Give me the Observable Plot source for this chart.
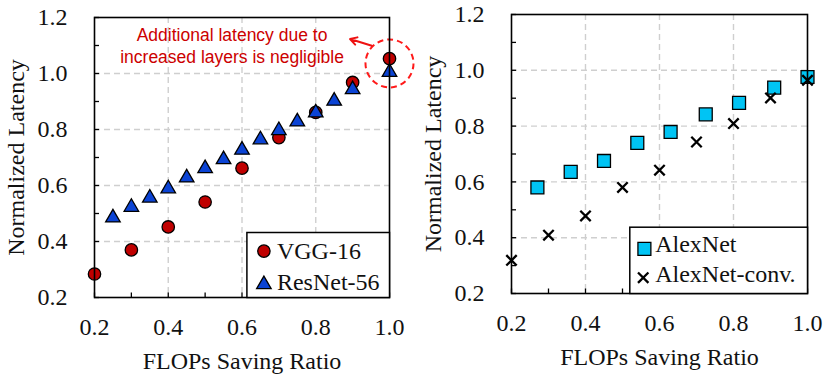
<!DOCTYPE html>
<html>
<head>
<meta charset="utf-8">
<script src="https://cdn.jsdelivr.net/npm/d3@7"></script>
<script src="https://cdn.jsdelivr.net/npm/@observablehq/plot@0.6"></script>
<style>
  html, body { margin: 0; padding: 0; background: #fff; }
  #wrap { position: relative; width: 823px; height: 377px; overflow: hidden; }
  #left { position: absolute; left: 0; top: 0; }
  #right { position: absolute; left: 420px; top: 0; }
</style>
</head>
<body>
<div id="wrap"><div id="left"></div><div id="right"></div></div>
<script>
// ---- data (left panel) ----
const vggX = [0.2, 0.3, 0.4, 0.5, 0.6, 0.7, 0.8, 0.9, 1.0];
const vggY = [0.284, 0.370, 0.452, 0.541, 0.662, 0.771, 0.861, 0.968, 1.053];
const resX = [0.25, 0.3, 0.35, 0.4, 0.45, 0.5, 0.55, 0.6, 0.65, 0.7, 0.75, 0.8, 0.85, 0.9, 1.0];
const resY = [0.492, 0.530, 0.563, 0.596, 0.635, 0.668, 0.700, 0.734, 0.771, 0.804, 0.835, 0.867, 0.909, 0.950, 1.012];
// ---- data (right panel) ----
const alexX = [0.27, 0.36, 0.45, 0.54, 0.63, 0.725, 0.815, 0.91, 1.0];
const alexY = [0.580, 0.636, 0.675, 0.740, 0.779, 0.842, 0.883, 0.938, 0.976];
const convX = [0.2, 0.3, 0.4, 0.5, 0.6, 0.7, 0.8, 0.9, 1.0];
const convY = [0.319, 0.409, 0.478, 0.580, 0.642, 0.743, 0.809, 0.901, 0.964];
// ---- axes / labels ----
const xMajor = [0.2, 0.4, 0.6, 0.8, 1.0];
const xMinor = [0.2, 0.3, 0.4, 0.5, 0.6, 0.7, 0.8, 0.9, 1.0];
const yMajor = [0.2, 0.4, 0.6, 0.8, 1.0, 1.2];
const yMinor = [0.2, 0.3, 0.4, 0.5, 0.6, 0.7, 0.8, 0.9, 1.0, 1.1, 1.2];
const xGrid = [0.4, 0.6, 0.8];
const yGrid = [0.4, 0.6, 0.8, 1.0];
const xTitle = "FLOPs Saving Ratio";
const yTitle = "Normalized Latency";
const leftLegend = ["VGG-16", "ResNet-56"];
const rightLegend = ["AlexNet", "AlexNet-conv."];
const note = {text: "Additional latency due to\nincreased layers is negligible", x: 0.573, y: 1.102};
const highlight = {x: 1.0, y: 1.036};
const pointer = {x1: 0.952, y1: 1.099, x2: 0.893, y2: 1.123};

const zip = (xs, ys) => xs.map((x, i) => ({x, y: ys[i]}));
const SERIF = "Liberation Serif, Times New Roman, serif";
const SANS = "Liberation Sans, Arial, sans-serif";
const RED = "#c00000", BLUE = "#0b43d4", CYAN = "#00c4f4";
const fmt = d3.format(".1f");

function commonMarks() {
  return [
    Plot.gridX(xGrid, {stroke: "#cfcfcf", strokeOpacity: 1, strokeWidth: 1.4, strokeDasharray: "6,4"}),
    Plot.gridY(yGrid, {stroke: "#cfcfcf", strokeOpacity: 1, strokeWidth: 1.4, strokeDasharray: "6,4"}),
    Plot.axisY(yMinor, {tickSize: -5, tickFormat: () => "", label: null, strokeWidth: 1.3}),
    Plot.axisX(xMinor, {tickSize: -4.5, tickFormat: () => "", label: null, strokeWidth: 1.3}),
    Plot.text(yMajor, {y: d => d, text: fmt, frameAnchor: "left", dx: -27, textAnchor: "end", lineAnchor: "middle", fontSize: 24, fontFamily: SERIF, fill: "#111"}),
    Plot.text(xMajor, {x: d => d, text: fmt, frameAnchor: "bottom", dy: 30, textAnchor: "middle", lineAnchor: "middle", fontSize: 24, fontFamily: SERIF, fill: "#111"}),
    Plot.text([yTitle], {text: d => d, frameAnchor: "left", dx: -78, rotate: -90, textAnchor: "middle", lineAnchor: "middle", fontSize: 24, fontFamily: SERIF, fill: "#111"}),
    Plot.text([xTitle], {text: d => d, frameAnchor: "bottom", dy: 64, textAnchor: "middle", lineAnchor: "middle", fontSize: 24, fontFamily: SERIF, fill: "#111"})
  ];
}

const left = Plot.plot({
  width: 420, height: 377,
  marginLeft: 94, marginRight: 31, marginTop: 17, marginBottom: 80,
  x: {domain: [0.2, 1.0]},
  y: {domain: [0.2, 1.2]},
  style: {fontFamily: SERIF, fontSize: "24px", background: "white", overflow: "visible"},
  marks: [
    ...commonMarks(),
    Plot.dot(zip(vggX, vggY), {x: "x", y: "y", r: 6.2, fill: RED, stroke: "black", strokeWidth: 1.3}),
    Plot.dot(zip(resX, resY), {x: "x", y: "y", r: 5.4, symbol: "triangle", dy: 2, fill: BLUE, stroke: "black", strokeWidth: 1.3}),
    Plot.dot([highlight], {x: "x", y: "y", r: 24, fill: "none", stroke: "#ff1a1a", strokeWidth: 2, strokeDasharray: "6,4"}),
    Plot.arrow([pointer], {x1: "x1", y1: "y1", x2: "x2", y2: "y2", stroke: "#ee1111", strokeWidth: 2, headLength: 7}),
    Plot.text([note], {x: "x", y: "y", text: "text", fontFamily: SANS, fontSize: 17.5, lineHeight: 1.24, fill: "#cc0000"}),
    Plot.frame({stroke: "black", strokeWidth: 1.6}),
    // legend
    Plot.frame({insetLeft: 152.4, insetTop: 215, fill: "white", stroke: "black", strokeWidth: 1.5}),
    Plot.dot([leftLegend[0]], {frameAnchor: "bottom-right", dx: -125.6, dy: -46.4, r: 6.2, fill: RED, stroke: "black", strokeWidth: 1.3}),
    Plot.dot([leftLegend[1]], {frameAnchor: "bottom-right", dx: -125.6, dy: -13, r: 5.4, symbol: "triangle", fill: BLUE, stroke: "black", strokeWidth: 1.3}),
    Plot.text([leftLegend[0]], {text: d => d, frameAnchor: "bottom-right", dx: -112.6, dy: -38.4, textAnchor: "start", lineAnchor: "bottom", fontSize: 24, fontFamily: SERIF, fill: "#111"}),
    Plot.text([leftLegend[1]], {text: d => d, frameAnchor: "bottom-right", dx: -112.6, dy: -7.2, textAnchor: "start", lineAnchor: "bottom", fontSize: 24, fontFamily: SERIF, fill: "#111"})
  ]
});

const right = Plot.plot({
  width: 403, height: 377,
  marginLeft: 91, marginRight: 16, marginTop: 14, marginBottom: 84,
  x: {domain: [0.2, 1.0]},
  y: {domain: [0.2, 1.2]},
  style: {fontFamily: SERIF, fontSize: "24px", background: "white", overflow: "visible"},
  marks: [
    ...commonMarks(),
    Plot.dot(zip(alexX, alexY), {x: "x", y: "y", r: 7.3, symbol: "square", fill: CYAN, stroke: "black", strokeWidth: 1.3}),
    Plot.dot(zip(convX, convY), {x: "x", y: "y", r: 4.8, symbol: "times", stroke: "black", strokeWidth: 2.3}),
    Plot.frame({stroke: "black", strokeWidth: 1.6}),
    // legend
    Plot.frame({insetLeft: 118.3, insetTop: 212.7, fill: "white", stroke: "black", strokeWidth: 1.5}),
    Plot.dot([rightLegend[0]], {frameAnchor: "bottom-right", dx: -163.1, dy: -44.6, r: 7.3, symbol: "square", fill: CYAN, stroke: "black", strokeWidth: 1.3}),
    Plot.dot([rightLegend[1]], {frameAnchor: "bottom-right", dx: -164.3, dy: -15.8, r: 4.8, symbol: "times", stroke: "black", strokeWidth: 2.3}),
    Plot.text([rightLegend[0]], {text: d => d, frameAnchor: "bottom-right", dx: -152.3, dy: -41.6, textAnchor: "start", lineAnchor: "bottom", fontSize: 24, fontFamily: SERIF, fill: "#111"}),
    Plot.text([rightLegend[1]], {text: d => d, frameAnchor: "bottom-right", dx: -152.3, dy: -11.6, textAnchor: "start", lineAnchor: "bottom", fontSize: 24, fontFamily: SERIF, fill: "#111"})
  ]
});

document.getElementById("left").appendChild(left);
document.getElementById("right").appendChild(right);
</script>
</body>
</html>
